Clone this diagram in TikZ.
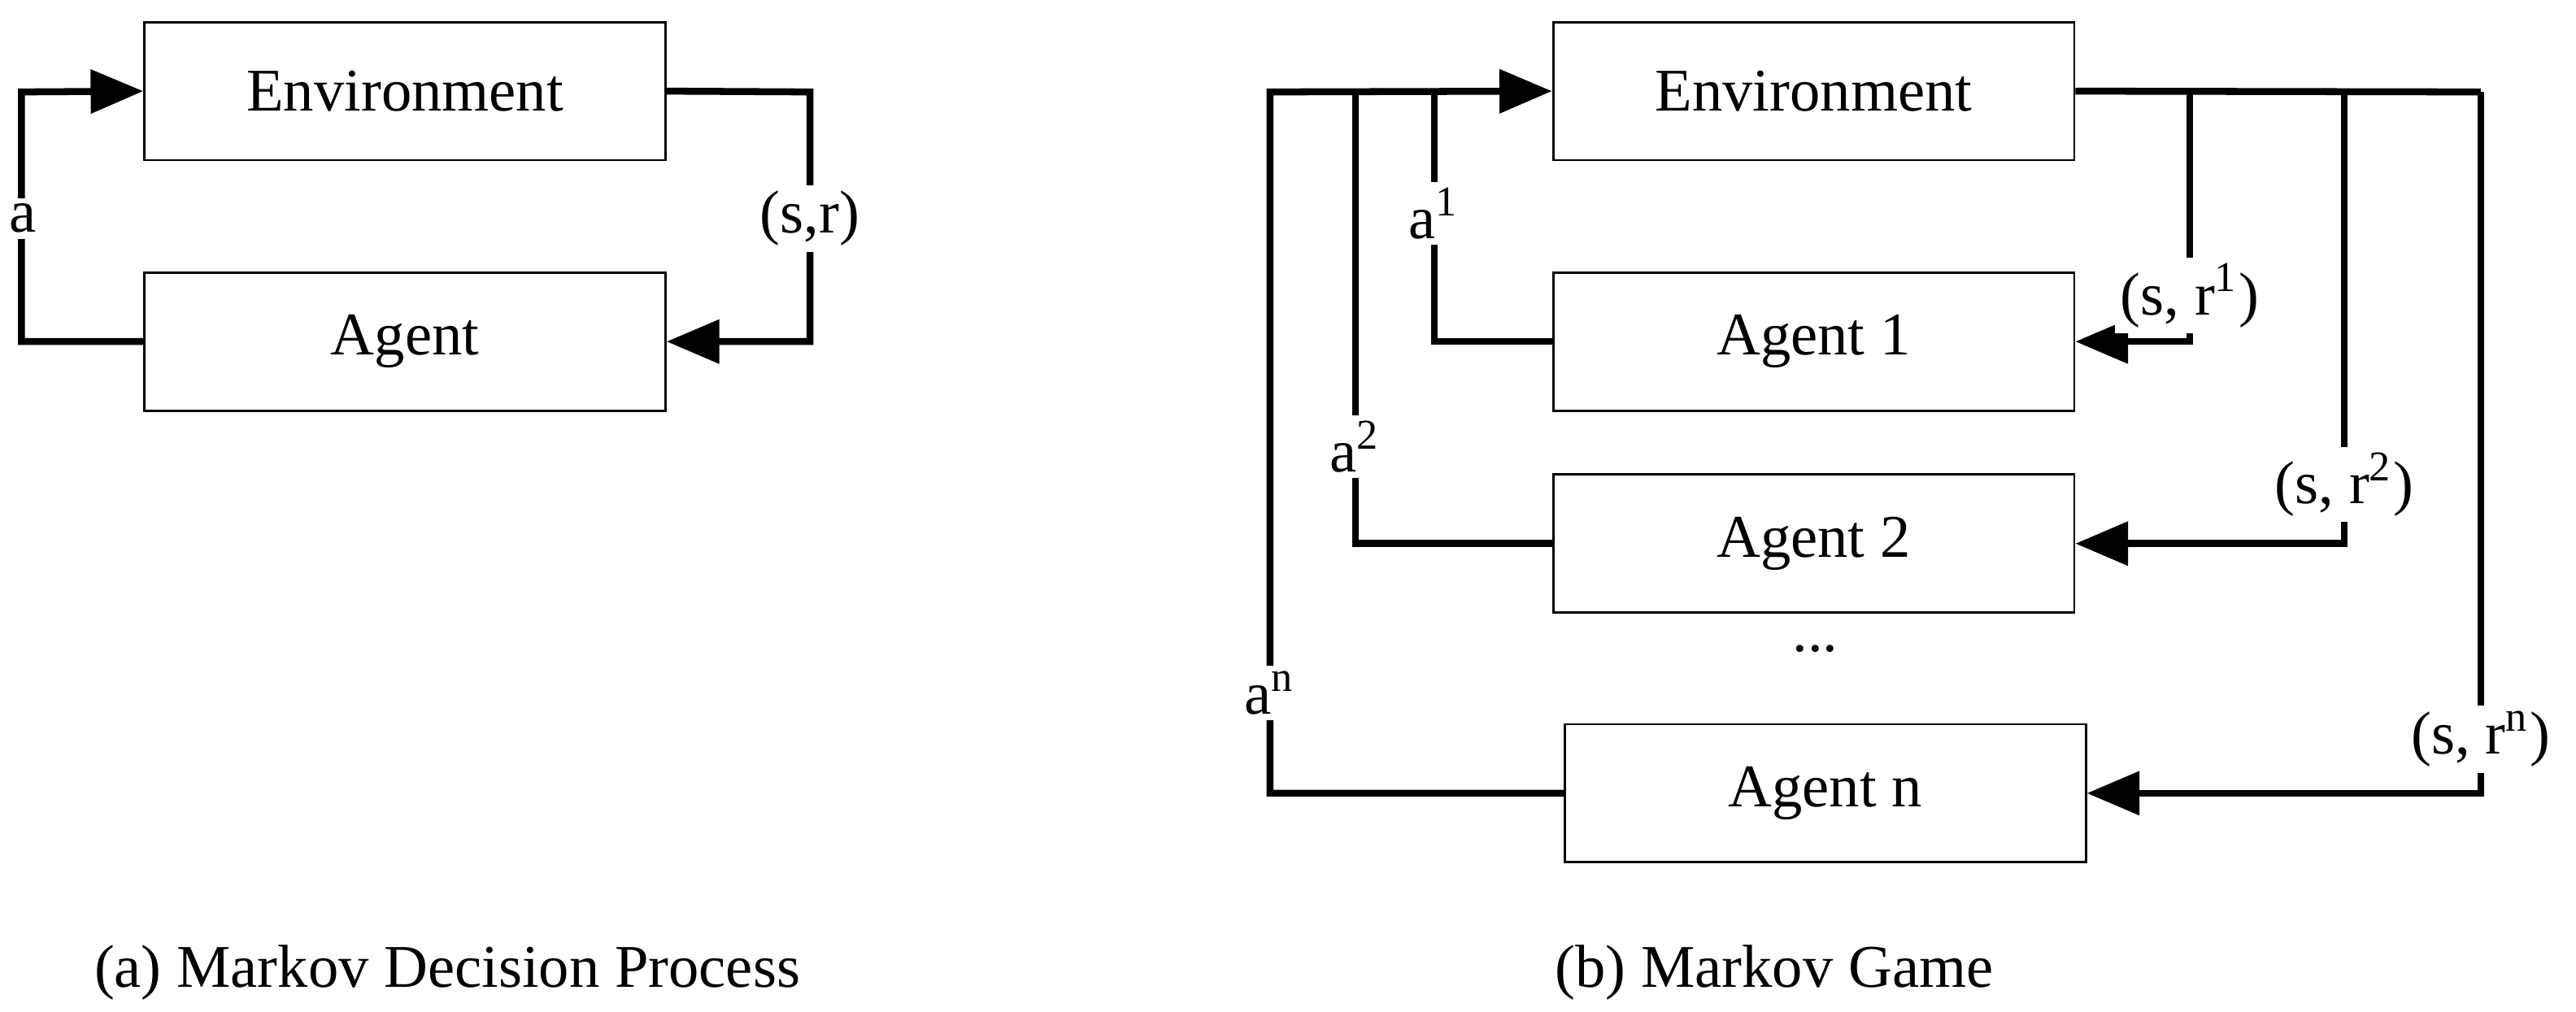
\documentclass[tikz,border=0pt]{standalone}
\usepackage{fontspec}
\setmainfont{Liberation Serif}
\usetikzlibrary{arrows.meta}
\newcommand{\sps}[1]{\textsuperscript{#1}}
\begin{document}
\begin{tikzpicture}[x=0.01cm,y=-0.01cm,
  box/.style={draw,line width=0.4pt,minimum width=3.17cm,minimum height=0.84cm,inner sep=0,font=\fontsize{10.5}{13}\selectfont},
  wire/.style={line width=1.2pt},
  arr/.style={wire,-{Triangle[length=0.32cm,width=0.26cm]}},
  lab/.style={font=\fontsize{10.5}{13}\selectfont,fill=white,inner sep=1pt}]
\useasboundingbox (0,0) rectangle (1568,616);
% left
\node[box] (env) at (246.5,55.5) {Environment};
\node[box] (ag) at (246.5,208) {Agent};
\coordinate (l1) at (13,208); \coordinate (l2) at (13,56);
\coordinate (r1) at (493,56); \coordinate (r2) at (493,208);
\draw[arr] (ag.west) -- (l1) -- (l2) -- (env.west);
\draw[arr] (env.east) -- (r1) -- (r2) -- (ag.east);
\node[lab] (la) at (14,133) {a};
\node[lab] (lsr) at (493,133) {(s,r)};
% right
\node[box] (E) at (1104,55.5) {Environment};
\node[box] (A1) at (1104,208) {Agent 1};
\node[box] (A2) at (1104,331) {Agent 2};
\node[font=\fontsize{10.5}{13}\selectfont] (dots) at (1105,395) {...};
\node[box] (An) at (1111,483) {Agent n};
\coordinate (p1) at (873,208); \coordinate (q1) at (873,56);
\coordinate (p2) at (825,331); \coordinate (q2) at (825,56);
\coordinate (pn) at (773,483); \coordinate (qn) at (773,56);
\draw[wire] (A1.west) -- (p1) -- (q1);
\draw[wire] (A2.west) -- (p2) -- (q2);
\draw[arr] (An.west) -- (pn) -- (qn) -- (E.west);
\coordinate (s1) at (1333,56); \coordinate (t1) at (1333,208);
\coordinate (s2) at (1427,56); \coordinate (t2) at (1427,331);
\coordinate (sn) at (1510,56); \coordinate (tn) at (1510,483);
\draw[wire] (E.east) -- (sn);
\draw[arr] (s1) -- (t1) -- (A1.east);
\draw[arr] (s2) -- (t2) -- (A2.east);
\draw[arr] (sn) -- (tn) -- (An.east);
\node[lab] (la1) at (873,130) {a\sps{1}};
\node[lab] (la2) at (825,272) {a\sps{2}};
\node[lab] (lan) at (773,422) {a\sps{n}};
\node[lab] (ls1) at (1333,180) {(s, r\sps{1})};
\node[lab] (ls2) at (1427,295) {(s, r\sps{2})};
\node[lab] (lsn) at (1510,450) {(s, r\sps{n})};
\node[font=\fontsize{10.5}{13}\selectfont,anchor=west] (ca) at (45,592) {(a) Markov Decision Process};
\node[font=\fontsize{10.5}{13}\selectfont] (cb) at (1080,592) {(b) Markov Game};
\end{tikzpicture}
\end{document}
